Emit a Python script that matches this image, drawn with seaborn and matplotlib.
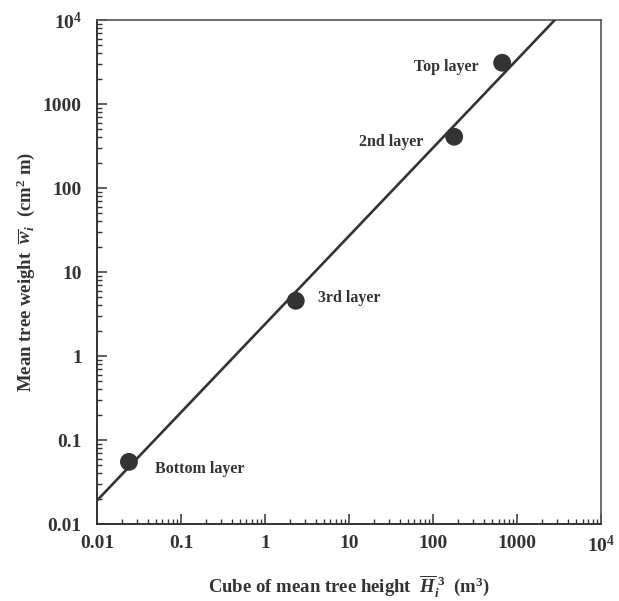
import numpy as np
import pandas as pd
import matplotlib
matplotlib.use("Agg")
import matplotlib.pyplot as plt
from matplotlib.ticker import FixedLocator, LogLocator, NullFormatter
import seaborn as sns

# Layer means: cube of mean tree height (m^3) vs mean tree weight (cm^2 m)
layers = ["Bottom layer", "3rd layer", "2nd layer", "Top layer"]
height_cubed = [0.024, 2.32, 178, 663]
tree_weight = [0.055, 4.55, 408, 3100]

# Allometric fit  w = a * H^(3b)
fit_coef = 2.4
fit_exp = 1.05

# Tick values and their labels
tick_values = [0.01, 0.1, 1, 10, 100, 1000, 10000]
tick_labels = ["0.01", "0.1", "1", "10", "100", "1000", r"$10^4$"]

sns.set_theme(style="white")
plt.rcParams["font.family"] = ["Liberation Serif", "DejaVu Serif"]
plt.rcParams["font.weight"] = "bold"
plt.rcParams["mathtext.fontset"] = "custom"
plt.rcParams["mathtext.rm"] = "Liberation Serif:bold"
plt.rcParams["mathtext.bf"] = "Liberation Serif:bold"
plt.rcParams["mathtext.it"] = "Liberation Serif:italic:bold"

ink = "#333333"

df = pd.DataFrame({"layer": layers, "H3": height_cubed, "w": tree_weight})
fit_x = np.array([tick_values[0], tick_values[-1]])
fit_df = pd.DataFrame({"H3": fit_x, "w": fit_coef * fit_x ** fit_exp})

fig = plt.figure(figsize=(6.19, 6.01), dpi=100)
ax = fig.add_axes([0.1567, 0.128, 0.8145, 0.8387])

sns.scatterplot(data=df, x="H3", y="w", ax=ax, s=165, color=ink,
                edgecolor="none", zorder=3)
sns.lineplot(data=fit_df, x="H3", y="w", ax=ax, color=ink, linewidth=1.9,
             zorder=4)

ax.set_xscale("log")
ax.set_yscale("log")
ax.set_xlim(tick_values[0], tick_values[-1])
ax.set_ylim(tick_values[0], tick_values[-1])

for axis in (ax.xaxis, ax.yaxis):
    axis.set_major_locator(FixedLocator(tick_values))
    axis.set_minor_locator(LogLocator(base=10, subs=np.arange(2, 10)))
    axis.set_minor_formatter(NullFormatter())
ax.set_xticklabels(tick_labels)
ax.set_yticklabels(tick_labels)

ax.tick_params(which="both", direction="in", top=False, right=False,
               bottom=True, left=True, colors=ink)
ax.tick_params(which="major", length=7, width=1.1, labelsize=14)
ax.tick_params(which="minor", length=3.5, width=1.0)
ax.tick_params(axis="x", which="major", pad=8)
ax.tick_params(axis="y", which="major", pad=11)
for lab in ax.get_xticklabels() + ax.get_yticklabels():
    lab.set_fontweight("bold")
    lab.set_color(ink)

for side in ["left", "bottom"]:
    ax.spines[side].set_color(ink)
    ax.spines[side].set_linewidth(1.4)
for side in ["top", "right"]:
    ax.spines[side].set_color("#555555")
    ax.spines[side].set_linewidth(1.2)

ax.set_xlabel(r"Cube of mean tree height  $\overline{H}_i^{\;3}$  (m$^3$)",
              fontsize=13.5, fontweight="bold", color=ink, labelpad=12)
ax.set_ylabel(r"Mean tree weight  $\overline{w}_i$  (cm$^2$ m)",
              fontsize=13.5, fontweight="bold", color=ink, labelpad=4)

# Layer labels beside each point
offsets = {
    "Bottom layer": ((19, -5), "left"),
    "3rd layer": ((16, 2), "left"),
    "2nd layer": ((-22, -4), "right"),
    "Top layer": ((-17, -3), "right"),
}
for name, xv, yv in zip(layers, height_cubed, tree_weight):
    (dx, dy), ha = offsets[name]
    ax.annotate(name, (xv, yv), xytext=(dx, dy), textcoords="offset points",
                ha=ha, va="center", fontsize=11.5, fontweight="bold",
                color=ink)

if ax.get_legend() is not None:
    ax.get_legend().remove()

fig.savefig("out.png", dpi=100)
